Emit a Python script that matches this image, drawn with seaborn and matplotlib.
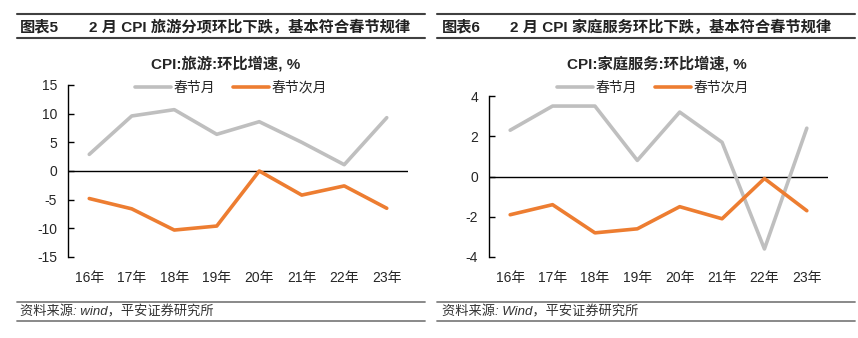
import matplotlib
matplotlib.use("Agg")
import matplotlib.pyplot as plt
import seaborn as sns
import pandas as pd
from matplotlib.lines import Line2D

sns.set_style("white")
FAM = ['Liberation Sans', 'Noto Sans CJK SC', 'DejaVu Sans']
plt.rcParams['font.family'] = FAM
plt.rcParams['axes.unicode_minus'] = False

# ---- data ----
years = ["16年", "17年", "18年", "19年", "20年", "21年", "22年", "23年"]
series_names = ["春节月", "春节次月"]
travel_spring = [2.9, 9.6, 10.7, 6.4, 8.6, 5.0, 1.1, 9.3]
travel_next = [-4.8, -6.6, -10.3, -9.6, 0.0, -4.2, -2.6, -6.5]
home_spring = [2.3, 3.5, 3.5, 0.8, 3.2, 1.7, -3.6, 2.4]
home_next = [-1.9, -1.4, -2.8, -2.6, -1.5, -2.1, -0.1, -1.7]

left_yticks = [-15, -10, -5, 0, 5, 10, 15]
right_yticks = [-4, -2, 0, 2, 4]

header_left = ("图表5", "2 月 CPI 旅游分项环比下跌，基本符合春节规律")
header_right = ("图表6", "2 月 CPI 家庭服务环比下跌，基本符合春节规律")
title_left = "CPI:旅游:环比增速, %"
title_right = "CPI:家庭服务:环比增速, %"
source_left = "资料来源: wind，平安证券研究所"
source_right = "资料来源: Wind，平安证券研究所"

colors = {"春节月": "#BFBFBF", "春节次月": "#ED7D31"}

W, H = 858, 338
fig = plt.figure(figsize=(W / 100, H / 100), dpi=100)


def fx(px):
    return px / W


def fy(py):
    return 1 - py / H


def make_df(a, b):
    return pd.DataFrame({
        "year": years * 2,
        "value": a + b,
        "series": [series_names[0]] * len(years) + [series_names[1]] * len(years),
    })


def panel(x0, x1, ytop, ybot, a, b, ylim, yticks, title, tcx, legcx):
    ax = fig.add_axes([fx(x0), fy(ybot), fx(x1 - x0), (ybot - ytop) / H])
    df = make_df(a, b)
    sns.lineplot(data=df, x="year", y="value", hue="series", palette=colors,
                 hue_order=series_names, sort=False, linewidth=2.6, ax=ax,
                 legend=False)
    ax.set_xlim(-0.5, len(years) - 0.5)
    ax.set_ylim(*ylim)
    ax.set_yticks(yticks)
    ax.set_yticklabels([str(t) for t in yticks])
    ax.axhline(0, color="black", linewidth=1.0, zorder=1)
    for s in ["top", "right", "bottom"]:
        ax.spines[s].set_visible(False)
    ax.spines["left"].set_color("black")
    ax.spines["left"].set_linewidth(1.0)
    ax.tick_params(axis="y", direction="in", length=4, width=1, color="black",
                   labelsize=10, pad=8, left=True)
    ax.tick_params(axis="x", length=0, labelsize=10, pad=10)
    ax.set_xlabel("")
    ax.set_ylabel("")
    ax.grid(False)
    fig.text(fx(tcx), fy(64), title, ha="center", va="center", fontsize=11,
             fontweight="bold", family=FAM)
    handles = [Line2D([], [], color=colors[n], linewidth=2.6) for n in series_names]
    ax.legend(handles, series_names, loc="center", ncol=2, frameon=False,
              bbox_to_anchor=(fx(legcx), fy(88)), bbox_transform=fig.transFigure,
              fontsize=10, handlelength=2.6, handletextpad=0.2, columnspacing=1.3,
              borderpad=0)
    return ax


panel(68, 408, 85, 257, travel_spring, travel_next, (-15, 15), left_yticks,
      title_left, 226, 231)
panel(489, 828, 96, 257, home_spring, home_next, (-4, 4), right_yticks,
      title_right, 657, 653)


def header_footer(xl, xr, tx1, tx2, hdr, src):
    for y, c, lw in [(14, "#404040", 1.5), (38, "#404040", 1.5),
                     (301.5, "#808080", 1.3), (321, "#808080", 1.3)]:
        fig.add_artist(Line2D([fx(xl), fx(xr)], [fy(y), fy(y)], color=c,
                              linewidth=lw, transform=fig.transFigure))
    fig.text(fx(tx1), fy(27), hdr[0], ha="left", va="center", fontsize=11,
             fontweight="bold", color="#222222", family=FAM)
    fig.text(fx(tx2), fy(27), hdr[1], ha="left", va="center", fontsize=11,
             fontweight="bold", color="#222222", family=FAM)
    fig.text(fx(tx1), fy(312), src, ha="left", va="center", fontsize=9.5,
             style="italic", color="#333333", family=FAM)


header_footer(17, 425, 20, 89, header_left, source_left)
header_footer(437, 855, 442, 510, header_right, source_right)

fig.savefig("out.png", dpi=100)
